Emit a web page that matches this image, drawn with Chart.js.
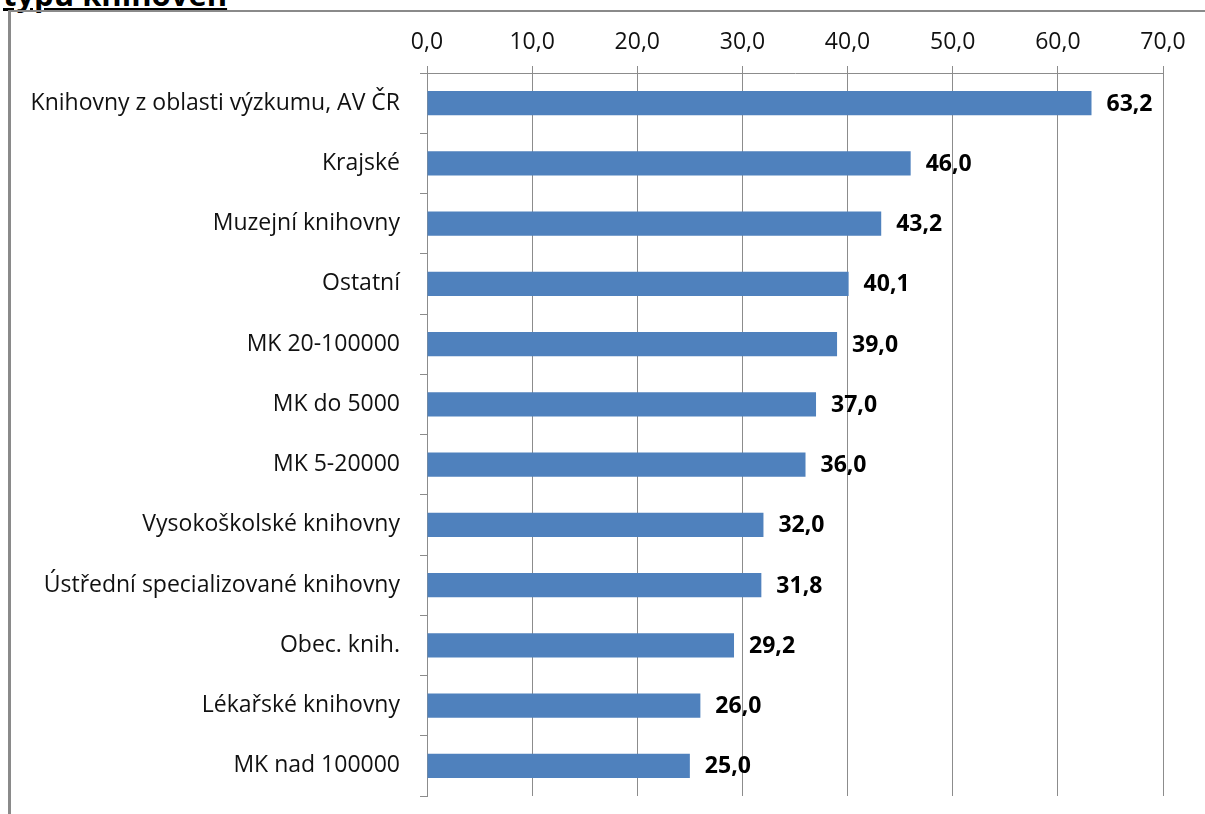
<!DOCTYPE html>
<html>
<head>
<meta charset="utf-8">
<script src="https://cdn.jsdelivr.net/npm/chart.js@4.4.1/dist/chart.umd.min.js"></script>
<style>
  html, body { margin: 0; padding: 0; background: #fff; overflow: hidden; }
  #title {
    position: absolute; left: 3px; top: -27px;
    font: bold 31px "Open Sans", sans-serif; color: #000;
    text-decoration: underline; white-space: nowrap;
  }
  #frame {
    position: absolute; left: 8px; top: 10px; width: 1300px; height: 900px;
    border-left: 3px solid #8a8a8a; border-top: 2px solid #8a8a8a;
  }
  #wrap { position: absolute; left: 0; top: 0; width: 1205px; height: 814px; }
</style>
</head>
<body>
<div id="title">typu knihoven</div>
<div id="frame"></div>
<div id="wrap"><canvas id="chart"></canvas></div>
<script>
const categories = [
  'Knihovny z oblasti výzkumu, AV ČR',
  'Krajské',
  'Muzejní knihovny',
  'Ostatní',
  'MK 20-100000',
  'MK do 5000',
  'MK 5-20000',
  'Vysokoškolské knihovny',
  'Ústřední specializované knihovny',
  'Obec. knih.',
  'Lékařské knihovny',
  'MK nad 100000'
];
const values = [63.2, 46.0, 43.2, 40.1, 39.0, 37.0, 36.0, 32.0, 31.8, 29.2, 26.0, 25.0];
const tickLabels = ['0,0', '10,0', '20,0', '30,0', '40,0', '50,0', '60,0', '70,0'];

const fontFamily = '"Open Sans", sans-serif';

// draws the bold value next to each bar end
const valueLabels = {
  id: 'valueLabels',
  afterDatasetsDraw(chart) {
    const ctx = chart.ctx;
    const meta = chart.getDatasetMeta(0);
    ctx.save();
    ctx.font = 'bold 23px ' + fontFamily;
    ctx.fillStyle = '#000';
    ctx.textAlign = 'left';
    ctx.textBaseline = 'middle';
    meta.data.forEach((bar, i) => {
      ctx.fillText(values[i].toFixed(1).replace('.', ','), bar.x + 15, bar.y + 1);
    });
    ctx.restore();
  }
};

new Chart(document.getElementById('chart'), {
  type: 'bar',
  data: {
    labels: categories,
    datasets: [{
      data: values,
      backgroundColor: '#4F81BD',
      borderWidth: 0,
      barPercentage: 0.4,
      categoryPercentage: 1.0
    }]
  },
  options: {
    indexAxis: 'y',
    responsive: true,
    maintainAspectRatio: false,
    animation: false,
    layout: { padding: { left: 0, top: 0, right: 42, bottom: 18 } },
    plugins: {
      legend: { display: false },
      tooltip: { enabled: false }
    },
    scales: {
      x: {
        position: 'top',
        min: 0,
        max: 70,
        afterFit(scale) { scale.height = 73; },
        ticks: {
          stepSize: 10,
          color: '#111',
          padding: 10,
          font: { family: fontFamily, size: 23 },
          callback: (v, i) => tickLabels[i]
        },
        grid: { color: '#8c8c8c', lineWidth: 1, tickLength: 7 },
        border: { color: '#8c8c8c', width: 1 }
      },
      y: {
        afterFit(scale) {
          scale.width = 427;
          scale.paddingTop = 0;
          scale.paddingBottom = 0;
        },
        ticks: {
          color: '#111',
          padding: 20,
          font: { family: fontFamily, size: 23 }
        },
        grid: { drawOnChartArea: false, color: '#8c8c8c', tickLength: 7, offset: true },
        border: { color: '#8c8c8c', width: 1 }
      }
    }
  },
  plugins: [valueLabels]
});
</script>
</body>
</html>
